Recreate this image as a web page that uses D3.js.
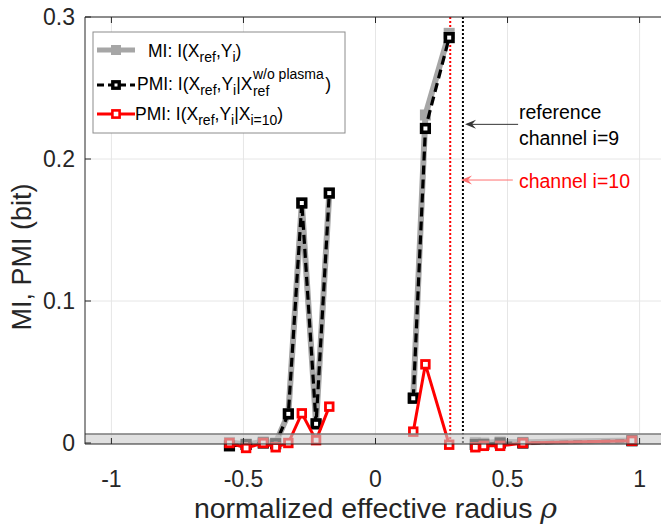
<!DOCTYPE html>
<html>
<head>
<meta charset="utf-8">
<script src="https://cdn.jsdelivr.net/npm/d3@7"></script>
<style>
  body { margin: 0; background: #fff; }
  text { font-family: "Liberation Sans", Arial, sans-serif; }
</style>
</head>
<body>
<svg id="chart" width="661" height="526"></svg>
<script>
// данные
var rho = [-0.553, -0.49, -0.425, -0.378, -0.33, -0.279, -0.225, -0.175,
           0.143, 0.189, 0.279, 0.378, 0.41, 0.472, 0.558, 0.971];
var segment = [0, 0, 0, 0, 0, 0, 0, 0, 1, 1, 1, 2, 2, 2, 2, 2];
var miRef = [0.0004, -0.001, 0.0008, 0.0, 0.0205, 0.169, 0.0135, 0.176,
             0.032, 0.231, 0.2885, 0.0004, 0.0, 0.0008, 0.0005, 0.0018];
var pmiPlasma = [-0.002, -0.001, 0.0, -0.0005, 0.0205, 0.169, 0.0135, 0.176,
                 0.0315, 0.2215, 0.2855, -0.001, -0.001, 0.0, 0.0, 0.0016];
var pmiCh10 = [0.0, -0.0035, 0.0, -0.003, 0.0, 0.0209, 0.002, 0.0256,
               0.008, 0.0554, -0.0012, -0.003, -0.002, -0.002, 0.0, 0.0016];
var xTicks = [-1, -0.5, 0, 0.5, 1];
var yTicks = [0, 0.1, 0.2, 0.3];
var refChannel = 0.331;   // канал i=9
var ch10 = 0.283;         // канал i=10
var noiseLevel = 0.0063;  // серая полоса

var svg = d3.select("#chart");
var x = d3.scaleLinear().domain([-1.1, 1.1]).range([85, 666]);
var y = d3.scaleLinear().domain([-0.0007, 0.3]).range([444, 17]);
var x0 = 85, x1 = 666, yTop = 17, yBot = 444;

// сетка
var grid = svg.append("g").attr("stroke", "#e6e6e6").attr("stroke-width", 1);
xTicks.forEach(function(t) {
  grid.append("line").attr("x1", x(t)).attr("x2", x(t)).attr("y1", yTop).attr("y2", yBot);
});
yTicks.slice(1).forEach(function(t) {
  grid.append("line").attr("x1", x0).attr("x2", x1).attr("y1", y(t)).attr("y2", y(t));
});

// вертикальные линии каналов
svg.append("line").attr("x1", x(ch10)).attr("x2", x(ch10))
  .attr("y1", yTop).attr("y2", yBot)
  .attr("stroke", "#ff0000").attr("stroke-width", 2).attr("stroke-dasharray", "2,2");
svg.append("line").attr("x1", x(refChannel)).attr("x2", x(refChannel))
  .attr("y1", yTop).attr("y2", yBot)
  .attr("stroke", "#000").attr("stroke-width", 2).attr("stroke-dasharray", "2,2");

var line = d3.line().x(function(d) { return x(d[0]); }).y(function(d) { return y(d[1]); });
function pts(vals) { return rho.map(function(r, i) { return [r, vals[i], segment[i]]; }); }
function groups(vals) {
  return Array.from(d3.group(pts(vals), function(d) { return d[2]; }).values());
}

function series(vals, color, width, dash) {
  svg.append("g").selectAll("path").data(groups(vals)).join("path")
    .attr("fill", "none").attr("stroke", color).attr("stroke-width", width)
    .attr("stroke-dasharray", dash).attr("d", line);
}

// MI
series(miRef, "#a6a6a6", 6, null);
svg.append("g").selectAll("rect").data(pts(miRef)).join("rect")
  .attr("x", function(d) { return x(d[0]) - 5.5; })
  .attr("y", function(d) { return y(d[1]) - 5.5; })
  .attr("width", 11).attr("height", 11).attr("fill", "#a6a6a6");

// PMI w/o plasma
series(pmiPlasma, "#000", 3.2, "9,5");
svg.append("g").selectAll("rect").data(pts(pmiPlasma)).join("rect")
  .attr("x", function(d) { return x(d[0]) - 3.8; })
  .attr("y", function(d) { return y(d[1]) - 3.8; })
  .attr("width", 7.6).attr("height", 7.6)
  .attr("fill", "#fff").attr("stroke", "#000").attr("stroke-width", 3.6);

// PMI i=10
series(pmiCh10, "#ff0000", 3, null);
svg.append("g").selectAll("rect").data(pts(pmiCh10)).join("rect")
  .attr("x", function(d) { return x(d[0]) - 3.8; })
  .attr("y", function(d) { return y(d[1]) - 3.8; })
  .attr("width", 7.6).attr("height", 7.6)
  .attr("fill", "#fff").attr("stroke", "#ff0000").attr("stroke-width", 2.8);

// полоса шума поверх
svg.append("rect").attr("x", x0).attr("width", x1 - x0)
  .attr("y", y(noiseLevel)).attr("height", yBot - y(noiseLevel))
  .attr("fill", "rgb(203,203,203)").attr("fill-opacity", 0.6);
svg.append("line").attr("x1", x0).attr("x2", x1)
  .attr("y1", y(noiseLevel)).attr("y2", y(noiseLevel))
  .attr("stroke", "#7a7a7a").attr("stroke-width", 1.5);

// оси
var axisColor = "#262626";
var ax = svg.append("g").attr("stroke", axisColor).attr("stroke-width", 1).attr("fill", "none");
ax.append("path").attr("d", "M" + x1 + "," + yTop + "H" + x0 + "V" + yBot + "H" + x1);
xTicks.forEach(function(t) {
  ax.append("line").attr("x1", x(t)).attr("x2", x(t)).attr("y1", yBot).attr("y2", yBot - 6);
  ax.append("line").attr("x1", x(t)).attr("x2", x(t)).attr("y1", yTop).attr("y2", yTop + 6);
});
yTicks.forEach(function(t) {
  ax.append("line").attr("x1", x0).attr("x2", x0 + 6).attr("y1", y(t)).attr("y2", y(t));
});

svg.append("g").selectAll("text").data(xTicks).join("text")
  .attr("x", function(d) { return x(d); }).attr("y", 487)
  .attr("text-anchor", "middle").attr("font-size", 23).attr("fill", axisColor)
  .text(function(d) { return d; });
svg.append("g").selectAll("text").data(yTicks).join("text")
  .attr("x", 75).attr("y", function(d) { return y(d); }).attr("dy", "0.36em")
  .attr("text-anchor", "end").attr("font-size", 23).attr("fill", axisColor)
  .text(function(d) { return d; });

var xl = svg.append("text").attr("x", x(0)).attr("y", 518)
  .attr("text-anchor", "middle").attr("font-size", 28.5).attr("fill", axisColor)
  .text("normalized effective radius ");
xl.append("tspan").attr("font-family", "DejaVu Serif").attr("font-style", "italic").text("ρ");
svg.append("text").attr("transform", "translate(31,257) rotate(-90)")
  .attr("text-anchor", "middle").attr("font-size", 27).attr("fill", axisColor)
  .text("MI, PMI (bit)");

// аннотации
function arrow(xFrom, xTo, yv, color) {
  var g = svg.append("g");
  g.append("line").attr("x1", x(xFrom)).attr("x2", x(xTo) + 2).attr("y1", y(yv)).attr("y2", y(yv))
    .attr("stroke", color).attr("stroke-width", 1);
  var tx = x(xTo), ty = y(yv);
  g.append("path")
    .attr("d", "M" + tx + "," + ty + "L" + (tx + 11) + "," + (ty - 4.5) + "L" + (tx + 7) + "," + ty +
      "L" + (tx + 11) + "," + (ty + 4.5) + "Z")
    .attr("fill", color);
}
arrow(0.54, 0.339, 0.2244, "#333");
arrow(0.52, 0.3237, 0.1852, "#ff7070");

var ann = svg.append("g").attr("font-size", 19.5);
ann.append("text").attr("x", x(0.543)).attr("y", 119).attr("fill", "#000").text("reference");
ann.append("text").attr("x", x(0.543)).attr("y", 145).attr("fill", "#000").text("channel i=9");
ann.append("text").attr("x", x(0.543)).attr("y", 188).attr("fill", "#ff0000").text("channel i=10");

// легенда
var lg = svg.append("g");
lg.append("rect").attr("x", 93).attr("y", 32).attr("width", 252).attr("height", 101)
  .attr("fill", "#fff").attr("stroke", "#8c8c8c").attr("stroke-width", 1);

var rows = [
  { y: 50, color: "#a6a6a6", w: 5, dash: null },
  { y: 85, color: "#000", w: 3, dash: "7,4" },
  { y: 114, color: "#ff0000", w: 3, dash: null }
];
rows.forEach(function(r, i) {
  lg.append("line").attr("x1", 97).attr("x2", 135).attr("y1", r.y).attr("y2", r.y)
    .attr("stroke", r.color).attr("stroke-width", r.w).attr("stroke-dasharray", r.dash);
  if (i === 0) {
    lg.append("rect").attr("x", 111).attr("y", r.y - 5).attr("width", 10).attr("height", 10).attr("fill", r.color);
  } else if (i === 1) {
    lg.append("rect").attr("x", 112.8).attr("y", r.y - 3.2).attr("width", 6.4).attr("height", 6.4)
      .attr("fill", "#fff").attr("stroke", "#000").attr("stroke-width", 3.4);
  } else {
    lg.append("rect").attr("x", 112.4).attr("y", r.y - 3.6).attr("width", 7.2).attr("height", 7.2)
      .attr("fill", "#fff").attr("stroke", "#ff0000").attr("stroke-width", 2.6);
  }
});

var fs = 17.5, fsSub = 14;
function legendText(xp, yp, parts) {
  var t = lg.append("text").attr("x", xp).attr("y", yp).attr("font-size", fs).attr("fill", "#000");
  parts.forEach(function(p) {
    var s = t.append("tspan").text(p[0]);
    if (p[1] === "sub") s.attr("font-size", fsSub).attr("dy", 5);
    if (p[1] === "up") s.attr("dy", -5);
  });
  return t;
}
legendText(148, 57, [["MI: I(X"], ["ref", "sub"], [",Y", "up"], ["i", "sub"], [")", "up"]]);
var t2 = legendText(137, 90, [["PMI: I(X"], ["ref", "sub"], [",Y", "up"], ["i", "sub"], ["|X", "up"]]);
var w2 = t2.node().getComputedTextLength();
var sup = lg.append("text").attr("x", 137 + w2 + 0.5).attr("y", 79).attr("font-size", fsSub).text("w/o plasma");
lg.append("text").attr("x", 137 + w2 + 0.5).attr("y", 96).attr("font-size", fsSub).text("ref");
lg.append("text").attr("x", 137 + w2 + sup.node().getComputedTextLength() + 2).attr("y", 90)
  .attr("font-size", fs).text(")");
legendText(135, 120, [["PMI: I(X"], ["ref", "sub"], [",Y", "up"], ["i", "sub"], ["|X", "up"], ["i=10", "sub"], [")", "up"]]);
</script>
</body>
</html>
